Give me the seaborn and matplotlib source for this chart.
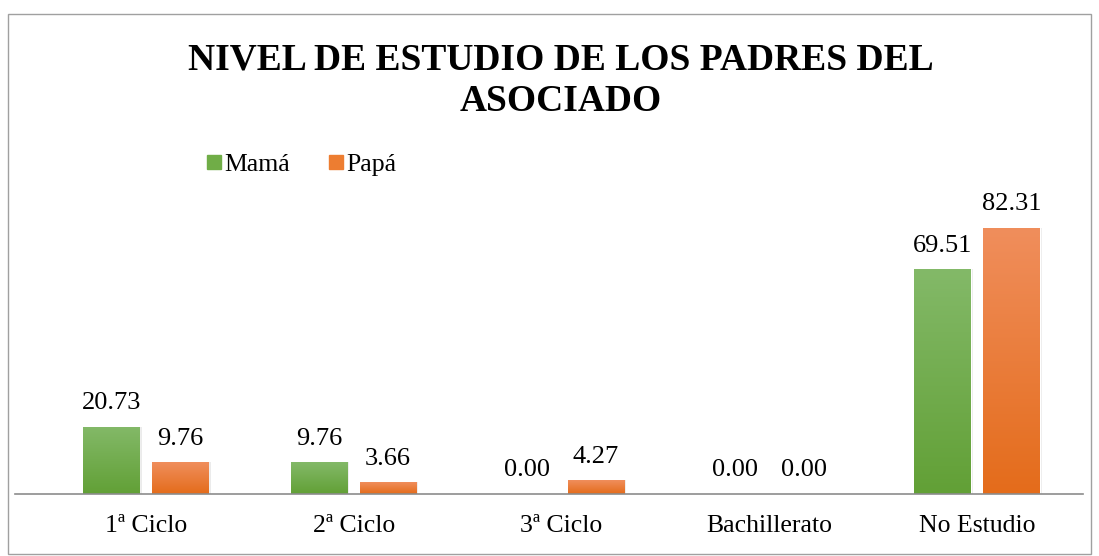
import numpy as np
import pandas as pd
import matplotlib
matplotlib.use("Agg")
import matplotlib.pyplot as plt
from matplotlib.colors import LinearSegmentedColormap
from matplotlib.lines import Line2D
from matplotlib.patches import Rectangle
import seaborn as sns

# Data
categories = ["1ª Ciclo", "2ª Ciclo", "3ª Ciclo", "Bachillerato", "No Estudio"]
mama = [20.73, 9.76, 0.00, 0.00, 69.51]
papa = [9.76, 3.66, 4.27, 0.00, 82.31]
series = ["Mamá", "Papá"]

df = pd.DataFrame({
    "nivel": categories * 2,
    "valor": mama + papa,
    "padre": [series[0]] * len(categories) + [series[1]] * len(categories),
})

sns.set_theme(style="white")
plt.rcParams["font.family"] = ["Liberation Serif", "DejaVu Serif"]
plt.rcParams["text.color"] = "black"
plt.rcParams["xtick.color"] = "black"

colors = {"Mamá": "#70ad47", "Papá": "#ed7d31"}
grads = {
    "Mamá": LinearSegmentedColormap.from_list("g", ["#62a036", "#83b968"]),
    "Papá": LinearSegmentedColormap.from_list("o", ["#e46c1b", "#f08e5c"]),
}

fig = plt.figure(figsize=(10.99, 5.56), dpi=100)
ax = fig.add_axes([15 / 1099, 62 / 556, 1068 / 1099, 291 / 556])

sns.barplot(data=df, x="nivel", y="valor", hue="padre", palette=colors,
            width=0.664, gap=0.187, ax=ax, legend=False, errorbar=None)

# gradient fill + soft shadow, labels
for cont, name in zip(ax.containers, series):
    for bar, val in zip(cont, cont.datavalues):
        x0, w, h = bar.get_x(), bar.get_width(), bar.get_height()
        if h > 0:
            shadow = Rectangle((x0 + 0.01, 0), w, h, color="#000000",
                               alpha=0.08, zorder=1, lw=0)
            ax.add_patch(shadow)
            grad = np.linspace(0, 1, 100).reshape(-1, 1)
            im = ax.imshow(grad, cmap=grads[name], origin="lower",
                           extent=[x0, x0 + w, 0, h], aspect="auto", zorder=2)
            im.set_clip_path(bar)
            bar.set_zorder(2)
        ax.annotate(f"{val:.2f}", (x0 + w / 2, h), xytext=(0, 9),
                    textcoords="offset points", ha="center", va="bottom",
                    fontsize=19, color="black")

ax.set_xlim(-0.63, 4.51)
ax.set_ylim(0, 90)
ax.set_xlabel("")
ax.set_ylabel("")
ax.set_yticks([])
ax.tick_params(axis="x", length=0, pad=15, labelsize=18.5, labelcolor="black")
for s in ["top", "right", "left"]:
    ax.spines[s].set_visible(False)
ax.spines["bottom"].set_color("#8c8c8c")
ax.spines["bottom"].set_linewidth(1.2)

fig.text(561 / 1099, 1 - 81 / 556, "NIVEL DE ESTUDIO DE LOS PADRES DEL\nASOCIADO",
         ha="center", va="center", fontsize=27, fontweight="bold",
         linespacing=1.25, color="black")

handles = [Line2D([], [], marker="s", linestyle="", markersize=10,
                  markerfacecolor=colors[s], markeredgecolor=colors[s]) for s in series]
fig.legend(handles, series, loc="center left", bbox_to_anchor=(175 / 1099, 1 - 165 / 556),
           ncol=2, frameon=False, fontsize=18.5, handletextpad=-0.2,
           columnspacing=1.2, handlelength=1.2)

# outer frame
fig.patches.append(Rectangle((8 / 1099, 2 / 556), 1083 / 1099, 540 / 556,
                             transform=fig.transFigure, fill=False,
                             edgecolor="#a0a0a0", lw=1))

fig.savefig("out.png", dpi=100)
